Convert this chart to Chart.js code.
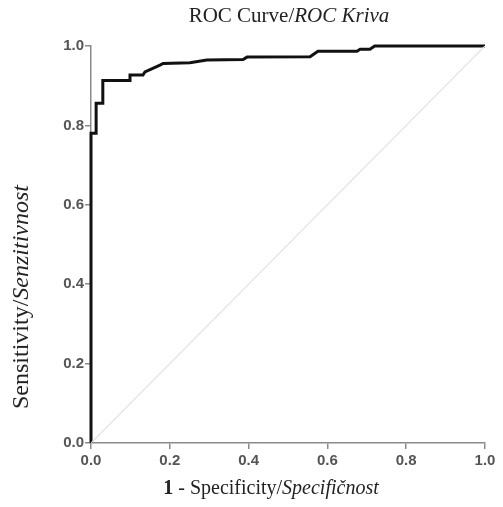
<!DOCTYPE html>
<html>
<head>
<meta charset="utf-8">
<script src="https://cdn.jsdelivr.net/npm/chart.js@4.4.1/dist/chart.umd.min.js"></script>
<style>
  body { margin: 0; background: #fff; }
  #wrap { position: relative; width: 503px; height: 507px; }
  #roc { position: absolute; left: 0; top: 0; }
  .ttl { position: absolute; font-family: "Liberation Serif", serif; color: #222; white-space: nowrap; line-height: 1; }
  #title { left: 289px; top: 5px; font-size: 21px; transform: translateX(-50%); }
  #xtitle { left: 271px; top: 477px; font-size: 20px; transform: translateX(-50%); }
  #ytitle { left: 20px; top: 297px; font-size: 24px; transform: translate(-50%, -50%) rotate(-90deg); }
</style>
</head>
<body>
<div id="wrap">
  <canvas id="roc" width="503" height="507"></canvas>
  <div class="ttl" id="title">ROC Curve/<i>ROC Kriva</i></div>
  <div class="ttl" id="ytitle">Sensitivity/<i>Senzitivnost</i></div>
  <div class="ttl" id="xtitle"><b>1</b> - Specificity/<i>Specifičnost</i></div>
</div>
<script>
// ROC points (1 - specificity, sensitivity)
var fpr = [0, 0, 0.013, 0.013, 0.03, 0.03, 0.099, 0.099, 0.132, 0.137, 0.175, 0.183, 0.251, 0.294, 0.386, 0.396, 0.556, 0.576, 0.675, 0.683, 0.708, 0.72, 1.0];
var tpr = [0, 0.78, 0.78, 0.856, 0.856, 0.913, 0.913, 0.927, 0.927, 0.935, 0.952, 0.956, 0.958, 0.965, 0.966, 0.972, 0.973, 0.987, 0.987, 0.992, 0.992, 1.0, 1.0];
var refX = [0, 1];
var refY = [0, 1];
var tickLabels = ["0.0", "0.2", "0.4", "0.6", "0.8", "1.0"];

var curve = [];
for (var i = 0; i < fpr.length; i++) {
  curve.push({x: fpr[i], y: tpr[i]});
}
var diag = [];
for (var j = 0; j < refX.length; j++) {
  diag.push({x: refX[j], y: refY[j]});
}

var axisStyle = function (pos, pad) {
  return {
    type: "linear",
    position: pos,
    min: 0,
    max: 1,
    ticks: {
      stepSize: 0.2,
      color: "#555",
      font: {family: "Liberation Sans", size: 15, weight: "bold"},
      padding: pad,
      callback: function (v) {
        var k = Math.round(v * 5);
        return tickLabels[k];
      }
    },
    grid: {drawOnChartArea: false, drawTicks: true, tickLength: 6, color: "#8a8a8a", lineWidth: 1.5},
    border: {display: true, color: "#8a8a8a", width: 1.5}
  };
};

var xAxis = axisStyle("bottom", 3);
xAxis.afterFit = function (s) { s.height = 64; };
var yAxis = axisStyle("left", 1);
yAxis.afterFit = function (s) { s.width = 91; };

new Chart(document.getElementById("roc"), {
  type: "scatter",
  data: {
    datasets: [
      {
        data: diag,
        showLine: true,
        borderColor: "#e0e0e0",
        borderWidth: 1.2,
        pointRadius: 0
      },
      {
        data: curve,
        showLine: true,
        borderColor: "#111",
        borderWidth: 3,
        pointRadius: 0,
        clip: false
      }
    ]
  },
  options: {
    responsive: false,
    animation: false,
    layout: {padding: {left: 0, right: 18, top: 46, bottom: 0}},
    plugins: {legend: {display: false}, tooltip: {enabled: false}},
    scales: {x: xAxis, y: yAxis}
  }
});
</script>
</body>
</html>
